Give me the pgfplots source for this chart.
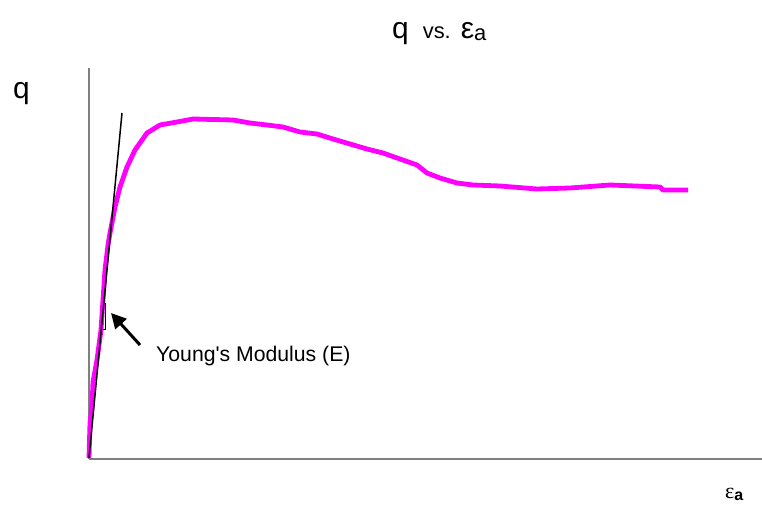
\documentclass[border=0pt]{standalone}
\usepackage{pgfplots}
\pgfplotsset{compat=1.18}
\usepackage{fontspec}
\setmainfont{Liberation Sans}
\newfontfamily\plainsans{Liberation Sans}
\newfontfamily\plainserif{Liberation Serif}
\usetikzlibrary{arrows.meta}
\definecolor{axisgray}{RGB}{128,128,128}
\definecolor{curvemag}{RGB}{255,0,255}
\begin{document}
\begin{tikzpicture}
\begin{axis}[
    x=1bp, y=1bp,
    xmin=0, xmax=673,
    ymin=0, ymax=391,
    axis lines*=left,
    axis line style={axisgray, line width=1.6bp},
    ticks=none,
    clip=false,
]
% q vs eps_a curve
\addplot[color=curvemag, line width=4.8bp, line join=round] coordinates {
(0,1) (1,36) (3,52) (4,77) (8,99) (12,129) (14,159) (16,189) (19,214)
(21,226) (26,252) (31,272) (38,292) (46,309) (58,326) (71,334) (88,337)
(104,340) (144,339) (161,336) (178,334) (194,332) (211,327) (228,325)
(244,320) (261,315) (278,310) (294,306) (311,300) (328,294) (338,286)
(351,281) (368,276) (384,274) (411,273) (448,270) (481,271) (521,274)
(571,272) (574,269) (599,269)
};
% tangent (Young's modulus)
\addplot[black, line width=1.5bp] coordinates {(0,1) (33,346)};
\addplot[black, line width=1bp] coordinates {(13.6,129) (16.7,129) (16.7,156)};

\draw[black, line width=3bp, -{Triangle[length=15bp, width=15bp]}]
    (axis cs:51,114) -- (axis cs:22,146);
\node[anchor=base west, inner sep=0pt, font=\plainsans\fontsize{21.3}{25}\selectfont]
    at (axis cs:67,97) {Young's Modulus (E)};

\node[anchor=base west, inner sep=0pt] at (axis cs:303,420)
    {\fontsize{30}{36}\selectfont q\hspace{14bp}{\fontsize{22}{26}\selectfont vs.}\hspace{10bp}ε\raisebox{-2bp}{\fontsize{22}{26}\selectfont a}};
\node[anchor=base west, inner sep=0pt] at (axis cs:-76,360)
    {\fontsize{30}{36}\selectfont q};
\node[anchor=base west, inner sep=0pt] at (axis cs:636,-40)
    {{\plainserif\fontsize{22}{26}\selectfont ε}\raisebox{-2bp}{\fontsize{16}{18}\selectfont\bfseries a}};

\coordinate (bl) at (axis cs:-89,-55);
\coordinate (tr) at (axis cs:673,459);
\end{axis}
\pgfresetboundingbox
\path (bl) rectangle (tr);
\end{tikzpicture}
\end{document}
